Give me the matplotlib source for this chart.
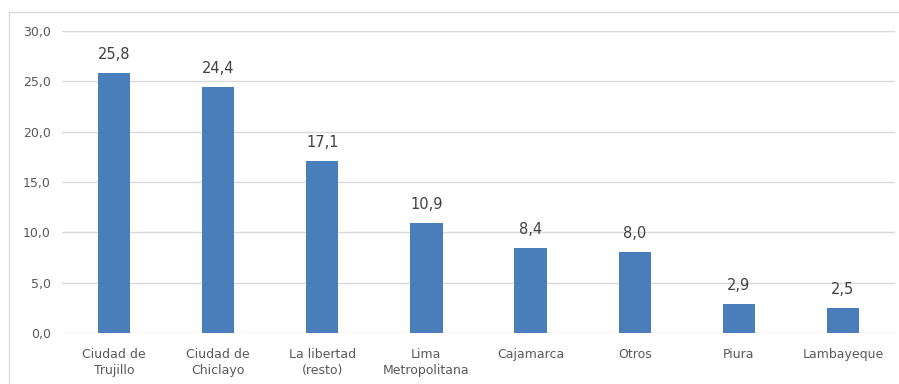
import matplotlib.pyplot as plt
from matplotlib.patches import Rectangle

categorias = ["Ciudad de\nTrujillo", "Ciudad de\nChiclayo", "La libertad\n(resto)",
              "Lima\nMetropolitana", "Cajamarca", "Otros", "Piura", "Lambayeque"]
valores = [25.8, 24.4, 17.1, 10.9, 8.4, 8.0, 2.9, 2.5]
ticks_y = [0, 5, 10, 15, 20, 25, 30]

plt.rcParams['font.family'] = ['DejaVu Sans']

fig = plt.figure(figsize=(8.99, 3.84), dpi=100)
ax = fig.add_axes([62 / 899, 1 - 333 / 384, 833 / 899, 302 / 384])

# marco exterior del gráfico
fig.patches.append(Rectangle((9 / 899, -0.1), 1.2, 1 - 12 / 384 + 0.1,
                             transform=fig.transFigure, fill=False,
                             edgecolor='#d9d9d9', linewidth=1))

x = range(len(valores))
ax.bar(x, valores, width=0.31, color='#4a7ebb', zorder=3)
for xi, v in zip(x, valores):
    ax.text(xi, v + 1.1, f"{v:.1f}".replace('.', ','), ha='center', va='bottom',
            fontsize=10.5, color='#404040')

ax.set_xlim(-0.5, len(valores) - 0.5)
ax.set_ylim(0, 30)
ax.set_yticks(ticks_y)
ax.set_yticklabels([f"{t:.1f}".replace('.', ',') for t in ticks_y])
ax.set_xticks(list(x))
ax.set_xticklabels(categorias, linespacing=1.3)
ax.tick_params(axis='both', length=0, labelsize=9, labelcolor='#595959')
ax.tick_params(axis='y', pad=8)
ax.tick_params(axis='x', pad=11)
ax.grid(axis='y', color='#d9d9d9', linewidth=1, zorder=0)
for s in ax.spines.values():
    s.set_visible(False)

fig.savefig('out.png', dpi=100)
